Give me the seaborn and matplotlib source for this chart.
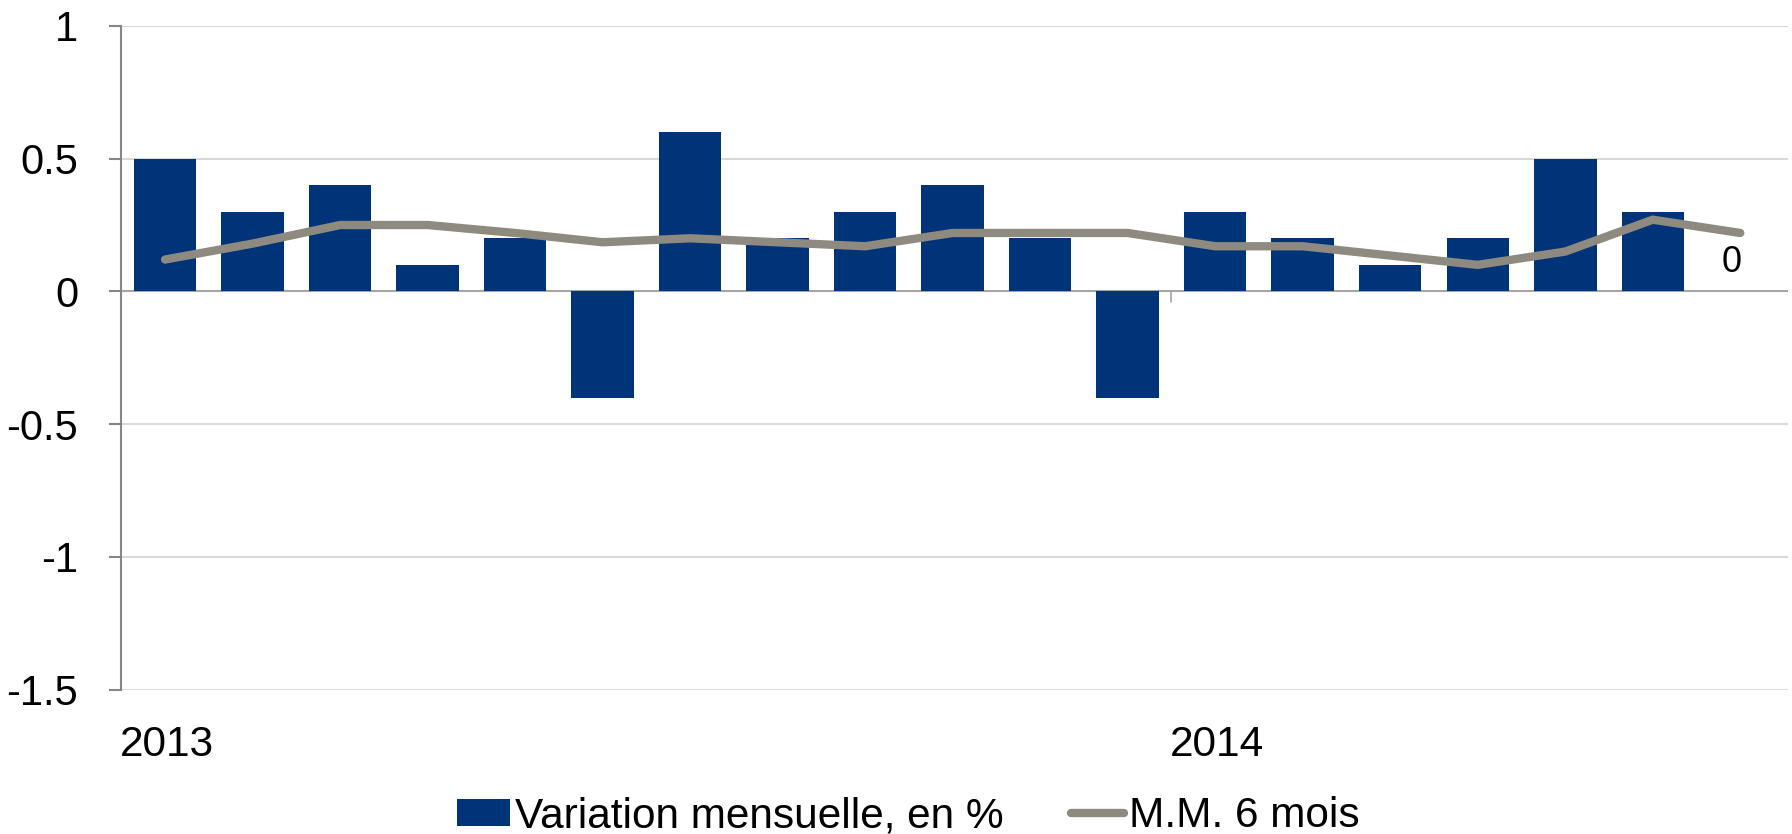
import numpy as np
import pandas as pd
import matplotlib
matplotlib.use("Agg")
import matplotlib.pyplot as plt
import seaborn as sns
from matplotlib.patches import Patch
from matplotlib.lines import Line2D

# Data: Jan 2013 .. Jul 2014
months = [f"2013-{m:02d}" for m in range(1, 13)] + [f"2014-{m:02d}" for m in range(1, 8)]
variation = [0.5, 0.3, 0.4, 0.1, 0.2, -0.4, 0.6, 0.2, 0.3, 0.4, 0.2, -0.4,
             0.3, 0.2, 0.1, 0.2, 0.5, 0.3, 0.0]
mm6 = [0.12, 0.18, 0.25, 0.25, 0.22, 0.185, 0.20, 0.185, 0.17, 0.22, 0.22, 0.22,
       0.17, 0.17, 0.135, 0.10, 0.15, 0.27, 0.22]
year_labels = ["2013", "2014"]
year_start = [0, 12]
y_ticks = [1, 0.5, 0, -0.5, -1, -1.5]
y_tick_labels = ["1", "0.5", "0", "-0.5", "-1", "-1.5"]

bar_color = "#003478"
line_color = "#8F8A80"

sns.set_style("white")
plt.rcParams["font.family"] = ["Liberation Sans", "DejaVu Sans"]
plt.rcParams["text.color"] = "black"
plt.rcParams["ytick.labelcolor"] = "black"

df = pd.DataFrame({"mois": months, "variation": variation, "mm6": mm6,
                   "pos": np.arange(len(months))})

fig = plt.figure(figsize=(17.92, 8.34), dpi=100)
ax = fig.add_axes([0.0677, 0.173, 0.9303, 0.796])

# grid
for y in [1, 0.5, -0.5, -1, -1.5]:
    ax.axhline(y, color="#D9D9D9", lw=1.5, zorder=0)
ax.axhline(0, color="#A6A6A6", lw=1.5, zorder=1)

sns.barplot(data=df, x="mois", y="variation", color=bar_color, width=0.714,
            saturation=1, linewidth=0, ax=ax, zorder=2)
sns.lineplot(data=df, x="pos", y="mm6", color=line_color, lw=6.0, ax=ax,
             zorder=3, solid_capstyle="round", solid_joinstyle="miter")

# data label for the last bar
ax.text(len(months) - 1 - 0.1, variation[-1] + 0.11, "0", ha="center", va="center",
        fontsize=26, color="black", zorder=4)

ax.set_xlim(-0.5, len(months) - 0.45)
ax.set_ylim(-1.5, 1)
ax.set_yticks(y_ticks)
ax.set_yticklabels(y_tick_labels)
ax.set_xticks([])
ax.set_xlabel("")
ax.set_ylabel("")
ax.tick_params(axis="y", length=9, width=1.5, color="#868686", left=True,
               labelsize=30, pad=22, labelcolor="black")

for s in ["top", "right", "bottom"]:
    ax.spines[s].set_visible(False)
ax.spines["left"].set_color("#868686")
ax.spines["left"].set_linewidth(1.5)

# year labels and tick at the year boundary
for lab, st in zip(year_labels, year_start):
    ax.text(st - 0.52, -1.71, lab, ha="left", va="center", fontsize=30.5,
            color="black")
ax.plot([11.5, 11.5], [0, -0.04], color="#A6A6A6", lw=1.2, zorder=1)

handles = [Patch(facecolor=bar_color, edgecolor="none"),
           Line2D([0], [0], color=line_color, lw=6.0, solid_capstyle="round")]
fig.legend(handles, ["Variation mensuelle, en %", "M.M. 6 mois"],
           loc="center", bbox_to_anchor=(0.507, 0.021), ncol=2, frameon=False,
           fontsize=30.5, handlelength=1.25, handleheight=0.6, handletextpad=0.12,
           columnspacing=1.6, borderaxespad=0, labelcolor="black")

fig.savefig("out.png", dpi=100)
